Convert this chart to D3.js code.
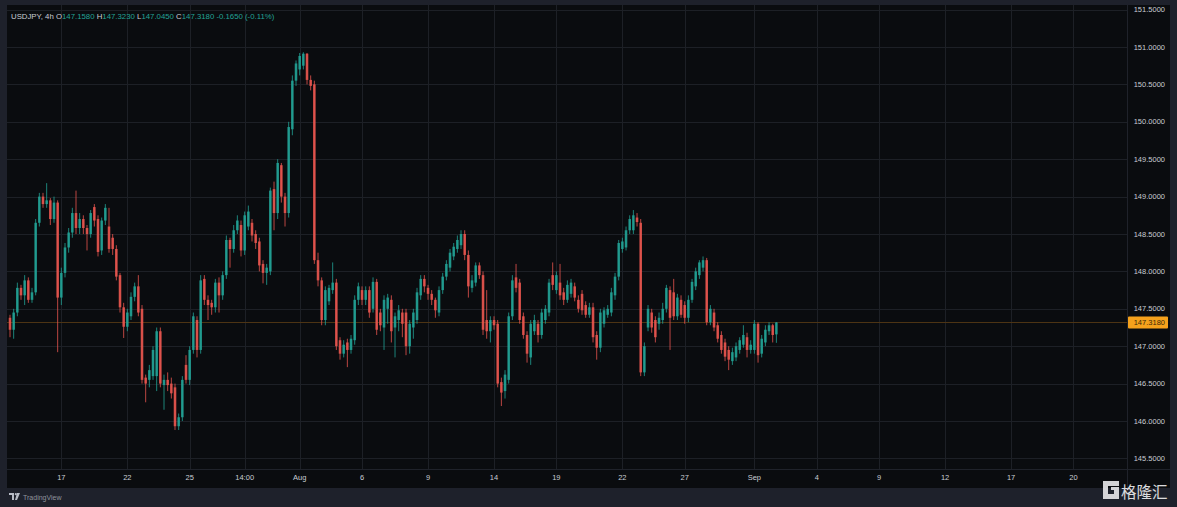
<!DOCTYPE html>
<html><head><meta charset="utf-8">
<script src="https://cdn.jsdelivr.net/npm/d3@7/dist/d3.min.js"></script>
<style>html,body{margin:0;padding:0;background:#1e212b;overflow:hidden}svg{display:block}</style>
</head><body>
<svg id="c" width="1177" height="507"></svg>
<script>
const opens=[147.38,147.22,147.45,147.78,147.68,147.88,147.62,147.72,148.65,149.00,148.90,148.95,148.70,148.92,147.65,147.98,148.32,148.52,148.78,148.58,148.70,148.58,148.50,148.86,148.70,148.28,148.68,148.60,148.45,148.30,147.95,147.52,147.26,147.40,147.66,147.80,147.50,146.58,146.55,146.60,146.60,147.20,146.48,146.55,146.50,146.45,145.93,146.05,146.75,146.55,146.95,147.35,146.95,147.90,147.62,147.58,147.52,147.85,147.68,147.95,148.42,148.30,148.55,148.62,148.28,148.60,148.65,148.50,148.40,148.10,147.98,148.00,149.10,148.78,149.42,149.00,148.78,149.90,150.55,150.70,150.75,150.91,150.56,150.50,148.15,147.88,147.35,147.60,147.75,147.85,147.08,146.90,147.05,146.95,147.08,147.62,147.75,147.62,147.75,147.50,147.86,147.45,147.25,147.50,147.62,147.25,147.35,147.45,147.45,147.00,147.25,147.35,147.68,147.90,147.78,147.70,147.62,147.45,147.75,147.93,148.05,148.20,148.30,148.35,148.50,148.22,147.78,147.85,148.08,147.95,147.35,147.20,147.35,147.30,146.52,146.40,146.55,147.40,147.92,147.85,147.40,147.15,146.85,147.20,147.30,147.15,147.35,147.45,147.95,147.75,147.85,147.72,147.62,147.70,147.80,147.62,147.70,147.55,147.42,147.52,147.15,146.98,147.30,147.42,147.45,147.68,147.93,148.30,148.32,148.55,148.55,148.72,148.65,146.65,147.25,147.45,147.35,147.30,147.35,147.50,147.75,147.72,147.40,147.62,147.55,147.38,147.62,147.80,147.95,148.05,148.15,147.32,147.45,147.28,147.15,147.05,146.95,146.80,146.85,146.95,147.02,147.12,146.95,146.95,147.30,146.90,147.05,147.20,147.28,147.158];
const highs=[147.42,147.50,147.85,147.82,147.95,147.92,147.78,148.70,149.05,149.05,149.18,148.98,149.00,148.95,148.05,148.38,148.58,148.85,149.08,148.78,148.75,148.62,148.82,148.90,148.75,148.72,148.90,148.85,148.50,148.35,147.98,147.58,147.50,147.72,147.85,147.95,147.55,146.62,146.75,147.00,147.25,147.25,146.62,146.65,146.58,146.50,146.10,146.60,146.88,147.00,147.45,147.40,147.95,147.95,147.68,147.62,147.90,147.92,148.00,148.48,148.45,148.62,148.75,148.68,148.80,148.88,148.70,148.55,148.45,148.15,148.10,149.12,149.20,149.50,149.45,149.05,150.00,150.62,150.82,150.92,150.93,150.92,150.62,150.55,148.25,147.92,147.80,147.82,148.12,147.90,147.12,147.08,147.10,147.15,147.68,147.85,147.80,147.80,147.80,147.92,147.90,147.50,147.68,147.70,147.68,147.45,147.55,147.50,147.50,147.35,147.50,147.78,147.95,147.95,147.82,147.75,147.65,147.80,147.98,148.15,148.30,148.38,148.48,148.55,148.55,148.28,147.95,148.12,148.12,148.00,147.75,147.40,147.40,147.35,146.58,146.68,147.45,147.95,148.10,147.90,147.45,147.20,147.35,147.42,147.35,147.50,147.55,147.90,148.12,148.00,148.10,147.78,147.88,147.90,147.85,147.68,147.75,147.60,147.58,147.58,147.20,147.50,147.52,147.55,147.78,147.98,148.42,148.45,148.60,148.75,148.82,148.78,148.70,147.05,147.55,147.50,147.40,147.45,147.58,147.82,147.80,147.90,147.70,147.68,147.60,147.68,147.90,148.05,148.15,148.20,148.18,147.55,147.50,147.32,147.20,147.10,147.00,146.98,147.05,147.12,147.28,147.18,147.08,147.35,147.32,147.15,147.28,147.32,147.30,147.323];
const lows=[147.12,147.10,147.40,147.62,147.55,147.58,147.58,147.68,148.60,148.85,148.85,148.62,148.65,146.92,147.55,147.92,148.25,148.45,148.50,148.50,148.50,148.28,148.45,148.60,148.20,148.22,148.62,148.25,148.22,147.88,147.45,147.11,147.20,147.35,147.60,147.40,146.50,146.25,146.45,146.55,146.40,146.45,146.15,146.40,146.30,145.88,145.88,146.00,146.50,146.48,146.90,146.85,146.90,147.55,147.35,147.42,147.45,147.45,147.62,147.90,148.05,148.25,148.50,148.20,148.22,148.55,148.40,148.30,148.00,147.84,147.82,147.95,148.55,148.70,148.92,148.60,148.72,149.82,150.48,150.62,150.70,150.50,150.42,148.10,147.80,147.28,147.28,147.55,147.70,146.95,146.82,146.85,146.72,146.90,147.02,147.55,147.55,147.55,147.38,147.45,147.15,147.20,146.95,147.30,147.05,146.85,147.20,147.12,146.88,146.90,147.10,147.30,147.62,147.72,147.62,147.55,147.38,147.40,147.70,147.88,148.00,148.15,148.25,148.30,148.15,147.65,147.72,147.80,147.90,147.15,147.10,147.05,147.22,146.45,146.20,146.30,146.50,147.35,147.72,147.30,147.10,146.78,146.75,147.15,147.05,147.10,147.30,147.40,147.75,147.70,147.62,147.55,147.58,147.65,147.60,147.45,147.42,147.38,147.38,147.05,146.82,146.92,147.25,147.38,147.40,147.62,147.88,148.25,148.28,148.50,148.50,148.60,146.60,146.60,147.20,147.18,147.05,147.22,147.30,147.45,146.95,147.35,147.35,147.38,147.30,147.32,147.58,147.75,147.90,148.00,147.28,147.28,147.20,147.05,146.90,146.80,146.68,146.75,146.80,146.90,146.98,146.85,146.90,146.90,146.78,146.85,147.00,147.15,147.05,147.045];
const closes=[147.22,147.45,147.78,147.68,147.88,147.62,147.72,148.65,149.00,148.90,148.95,148.70,148.92,147.65,147.98,148.32,148.52,148.78,148.58,148.70,148.58,148.50,148.78,148.68,148.26,148.68,148.85,148.30,148.30,147.93,147.52,147.26,147.45,147.66,147.80,147.45,146.55,146.50,146.68,146.95,147.20,146.50,146.55,146.48,146.37,145.93,146.05,146.55,146.55,146.95,147.40,146.95,147.88,147.62,147.55,147.52,147.85,147.68,147.95,148.42,148.30,148.55,148.68,148.28,148.75,148.80,148.48,148.38,148.08,147.98,148.05,149.08,148.78,149.45,149.00,148.78,149.93,150.55,150.78,150.88,150.91,150.56,150.48,148.15,147.88,147.35,147.75,147.78,147.85,147.00,146.90,147.02,146.95,147.10,147.62,147.80,147.62,147.75,147.45,147.86,147.22,147.28,147.62,147.65,147.20,147.40,147.48,147.30,147.00,147.30,147.45,147.72,147.90,147.80,147.70,147.62,147.48,147.75,147.93,148.10,148.25,148.33,148.42,148.50,148.22,147.80,147.88,148.08,147.95,147.22,147.20,147.35,147.28,146.50,146.38,146.62,147.40,147.88,147.78,147.35,147.15,146.90,147.30,147.35,147.15,147.45,147.50,147.85,147.82,147.95,147.68,147.62,147.82,147.85,147.65,147.50,147.48,147.42,147.52,147.12,146.98,147.45,147.48,147.50,147.72,147.93,148.38,148.40,148.55,148.70,148.75,148.66,146.65,147.00,147.50,147.25,147.12,147.38,147.50,147.78,147.38,147.40,147.65,147.42,147.38,147.62,147.86,148.00,148.12,148.15,147.32,147.50,147.25,147.10,146.95,146.86,146.82,146.92,147.00,147.08,147.15,146.95,147.02,147.30,146.88,147.10,147.22,147.28,147.15,147.318];
const priceTicks=[145.5,146.0,146.5,147.0,147.5,148.0,148.5,149.0,149.5,150.0,150.5,151.0,151.5];
const timeTickLabels=["17","22","25","14:00","Aug","6","9","14","19","22","27","Sep","4","9","12","17","20"];
const timeTickIndex=[14,32,49,64,79,96,114,132,149,167,184,203,220,237,255,273,290];
const symbolText="USDJPY, 4h";
const ohlcLabels=["O","H","L","C"];
const lastValues=[147.158,147.323,147.045,147.318];
const changeText="-0.1650 (-0.11%)";
const lastPrice=147.318;

const svg=d3.select("#c");
const W=1177,H=507;
const pane={x0:7,x1:1127,y0:5,y1:469};
const axisBottom=488, axisRight=1170;
const UP="#22a295", DOWN="#e8554f";
const FONT="'Liberation Sans', Arial, sans-serif";

svg.append("rect").attr("width",W).attr("height",H).attr("fill","#1e212b");
svg.append("rect").attr("x",pane.x0).attr("y",pane.y0).attr("width",axisRight-pane.x0).attr("height",axisBottom-pane.y0).attr("fill","#0a0c0f");

const x=d3.scaleLinear().domain([0,290]).range([10,1073.4]);
const y=d3.scaleLinear().domain([145.5,151.5]).range([458.4,9.6]);

// grid
const g=svg.append("g");
g.selectAll("line.h").data(priceTicks).join("line")
  .attr("x1",pane.x0).attr("x2",pane.x1)
  .attr("y1",d=>Math.round(y(d))+0.5).attr("y2",d=>Math.round(y(d))+0.5)
  .attr("stroke","#1d2026").attr("stroke-width",1);
g.selectAll("line.v").data(timeTickIndex).join("line")
  .attr("x1",d=>Math.round(x(d))+0.5).attr("x2",d=>Math.round(x(d))+0.5)
  .attr("y1",pane.y0).attr("y2",pane.y1)
  .attr("stroke","#1d2026").attr("stroke-width",1);

// separators
svg.append("line").attr("x1",pane.x0).attr("x2",axisRight).attr("y1",pane.y1+0.5).attr("y2",pane.y1+0.5).attr("stroke","#1f222a");
svg.append("line").attr("x1",pane.x1+0.5).attr("x2",pane.x1+0.5).attr("y1",pane.y0).attr("y2",axisBottom).attr("stroke","#1f222a");

// last price line
svg.append("line").attr("x1",pane.x0).attr("x2",pane.x1)
  .attr("y1",Math.round(y(lastPrice))+0.5).attr("y2",Math.round(y(lastPrice))+0.5)
  .attr("stroke","#4d3414").attr("stroke-width",1);

// candles
const data=closes.map((c,i)=>({i,o:opens[i],h:highs[i],l:lows[i],c}));
const cg=svg.append("g");
cg.selectAll("line").data(data).join("line")
  .attr("x1",d=>x(d.i)).attr("x2",d=>x(d.i))
  .attr("y1",d=>y(d.h)).attr("y2",d=>y(d.l))
  .attr("stroke",d=>d.c>=d.o?UP:DOWN).attr("stroke-width",1).attr("opacity",0.8);
const bw=(x(1)-x(0))*0.7;
cg.selectAll("rect").data(data).join("rect")
  .attr("x",d=>x(d.i)-bw/2).attr("width",bw)
  .attr("y",d=>y(Math.max(d.o,d.c)))
  .attr("height",d=>Math.max(1,Math.abs(y(d.o)-y(d.c))))
  .attr("fill",d=>d.c>=d.o?UP:DOWN).attr("opacity",0.88);

// price axis labels
svg.append("g").selectAll("text").data(priceTicks).join("text")
  .attr("x",1165).attr("y",d=>y(d)+2.5).attr("text-anchor","end")
  .attr("font-family",FONT).attr("font-size",7.5).attr("fill","#c9ccd4")
  .text(d=>d.toFixed(4));

// last price label
const ly=y(lastPrice);
svg.append("rect").attr("x",1128).attr("y",ly-6).attr("width",40).attr("height",12).attr("fill","#f5a11c").attr("rx",1);
svg.append("text").attr("x",1165).attr("y",ly+2.5).attr("text-anchor","end")
  .attr("font-family",FONT).attr("font-size",7.5).attr("fill","#3a2a08").text(lastPrice.toFixed(4));

// time axis labels
svg.append("g").selectAll("text").data(timeTickIndex).join("text")
  .attr("x",d=>x(d)).attr("y",480).attr("text-anchor","middle")
  .attr("font-family",FONT).attr("font-size",7.5).attr("fill","#c9ccd4")
  .text((d,i)=>timeTickLabels[i]);

// legend
const leg=svg.append("text").attr("x",11).attr("y",19).attr("font-family",FONT).attr("font-size",7.8);
leg.append("tspan").attr("fill","#c9ccd4").text(symbolText+"  ");
ohlcLabels.forEach((l,i)=>{
  leg.append("tspan").attr("fill","#c9ccd4").text(l);
  leg.append("tspan").attr("fill",UP).text(lastValues[i].toFixed(4)+"  ");
});
leg.append("tspan").attr("fill",UP).text(changeText);

// TradingView logo bottom-left
const tv=svg.append("g").attr("transform","translate(9,493)");
tv.append("path").attr("d","M0,0 H5 V7 H3 V2 H0 Z").attr("fill","#b8bcc6");
tv.append("circle").attr("cx",6.8).attr("cy",1.2).attr("r",1.1).attr("fill","#b8bcc6");
tv.append("path").attr("d","M8,0 H11 L8,7 H6 Z").attr("fill","#b8bcc6");
svg.append("text").attr("x",23).attr("y",500).attr("font-family",FONT).attr("font-size",7).attr("fill","#8f939c").text("TradingView");

// watermark
const wm=svg.append("g").attr("transform","translate(1103,481)");
wm.append("path").attr("d","M0,0 H16 V5 H5 V13 H11 V9 H8 V6 H16 V18 H0 Z").attr("fill","#e8e8ea").attr("opacity",0.9);
svg.append("text").attr("x",1121).attr("y",498).attr("font-family","'Noto Sans CJK SC', sans-serif")
  .attr("font-size",15.5).attr("fill","#ececee").attr("opacity",0.92).text("格隆汇");
</script>
</body></html>
